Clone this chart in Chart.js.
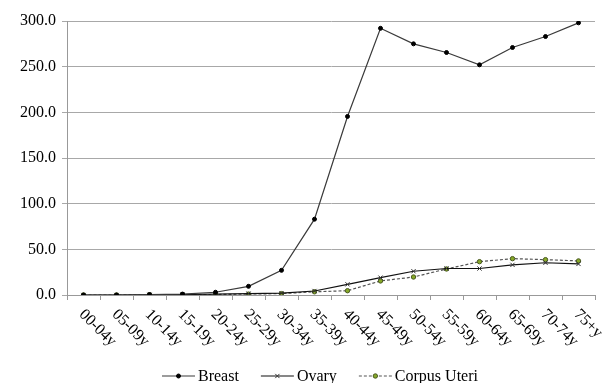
<!DOCTYPE html>
<html>
<head>
<meta charset="utf-8">
<script src="https://cdn.jsdelivr.net/npm/chart.js@4/dist/chart.umd.min.js"></script>
<style>
  html, body { margin: 0; padding: 0; background: #fff; }
  #wrap { width: 603px; height: 383px; }
</style>
</head>
<body>
<div id="wrap"><canvas id="chart" width="603" height="383"></canvas></div>
<script>
const ageGroups = ["00-04y", "05-09y", "10-14y", "15-19y", "20-24y", "25-29y", "30-34y", "35-39y",
  "40-44y", "45-49y", "50-54y", "55-59y", "60-64y", "65-69y", "70-74y", "75+y"];
const breast = [0, 0, 0.5, 1, 3, 9.5, 27, 83, 195.5, 292, 275, 265.5, 252, 271, 283, 298];
const ovary = [0, 0, 0.3, 0.5, 1, 1.5, 2, 4.4, 11.7, 19, 26, 29, 29, 33, 35.3, 34];
const corpusUteri = [0, 0, 0.2, 0.3, 0.5, 1, 1.5, 3.5, 4.7, 15.4, 19.7, 28.5, 36.5, 39.8, 38.7, 37.3];
const yTicks = [0, 50, 100, 150, 200, 250, 300];

const FONT = "\"Liberation Serif\", \"Times New Roman\", serif";

// labels rotated down-right and a line+marker legend, like the original
const customDraw = {
  id: "customDraw",
  afterDraw(chart) {
    const ctx = chart.ctx;
    const x = chart.scales.x;
    ctx.save();
    ctx.font = "16px " + FONT;
    ctx.fillStyle = "#000";
    ctx.textAlign = "left";
    ctx.textBaseline = "middle";
    ageGroups.forEach((lab, i) => {
      const px = x.getPixelForTick(i);
      ctx.save();
      ctx.translate(px - 2, x.top + 17);
      ctx.rotate(Math.PI / 4);
      ctx.fillText(lab, 0, 0);
      ctx.restore();
    });

    // legend
    let lx = 162;
    const ly = 376;
    chart.data.datasets.forEach((ds) => {
      ctx.save();
      ctx.strokeStyle = ds.borderColor;
      ctx.lineWidth = ds.borderWidth;
      ctx.setLineDash(ds.borderDash || []);
      ctx.beginPath();
      ctx.moveTo(lx, ly);
      ctx.lineTo(lx + 33, ly);
      ctx.stroke();
      ctx.setLineDash([]);
      ctx.fillStyle = ds.pointBackgroundColor;
      ctx.strokeStyle = ds.pointBorderColor;
      ctx.lineWidth = ds.pointBorderWidth;
      Chart.helpers.drawPoint(ctx, {
        pointStyle: ds.pointStyle,
        radius: ds.pointRadius,
        borderWidth: ds.pointBorderWidth
      }, lx + 16.5, ly);
      ctx.fillStyle = "#000";
      ctx.font = "16px " + FONT;
      ctx.textBaseline = "middle";
      ctx.fillText(ds.label, lx + 36, ly + 1);
      const w = ctx.measureText(ds.label).width;
      ctx.restore();
      lx += 36 + w + 22;
    });
    ctx.restore();
  }
};

new Chart(document.getElementById("chart"), {
  type: "line",
  data: {
    labels: ageGroups,
    datasets: [
      {
        label: "Breast",
        data: breast,
        borderColor: "#3a3a3a",
        borderWidth: 1.2,
        pointStyle: "circle",
        pointRadius: 2,
        pointBorderWidth: 1,
        pointBackgroundColor: "#000",
        pointBorderColor: "#000",
        tension: 0
      },
      {
        label: "Ovary",
        data: ovary,
        borderColor: "#111",
        borderWidth: 1.2,
        pointStyle: "crossRot",
        pointRadius: 3,
        pointBorderWidth: 1,
        pointBackgroundColor: "#333",
        pointBorderColor: "#333",
        tension: 0
      },
      {
        label: "Corpus Uteri",
        data: corpusUteri,
        borderColor: "#555",
        borderWidth: 1.2,
        borderDash: [3, 2],
        pointStyle: "circle",
        pointRadius: 2.2,
        pointBorderWidth: 1,
        pointBackgroundColor: "#86a828",
        pointBorderColor: "#4a5a20",
        tension: 0
      }
    ]
  },
  options: {
    responsive: false,
    animation: false,
    layout: { padding: { top: 21, right: 8, left: 0, bottom: 0 } },
    plugins: {
      legend: { display: false },
      tooltip: { enabled: false }
    },
    scales: {
      x: {
        offset: true,
        grid: { display: true, drawOnChartArea: false, offset: true, tickLength: 5, color: "#999" },
        border: { color: "#999" },
        ticks: { display: false },
        afterFit(scale) { scale.height = 88; }
      },
      y: {
        min: 0,
        max: 300,
        afterBuildTicks(scale) { scale.ticks = yTicks.map(v => ({ value: v })); },
        grid: { color: "#a8a8a8", tickLength: 5 },
        border: { color: "#999" },
        ticks: {
          color: "#000",
          font: { family: FONT, size: 16 },
          padding: 6,
          callback: v => v.toFixed(1)
        },
        afterFit(scale) { scale.width = 67; }
      }
    }
  },
  plugins: [customDraw]
});
</script>
</body>
</html>
